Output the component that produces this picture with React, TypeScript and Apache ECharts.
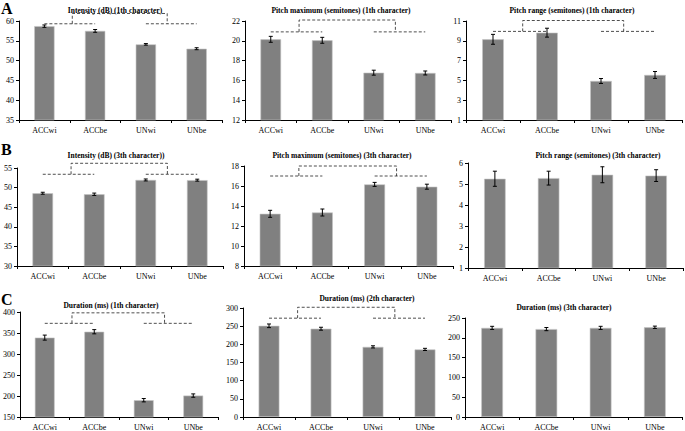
import React, { useEffect, useRef } from "react";
import * as echarts from "echarts";

const categories = ["ACCwi", "ACCbe", "UNwi", "UNbe"];

// Row A
const intensity1Means = [58.7, 57.5, 54.1, 53.0];
const intensity1Errs = [0.3, 0.35, 0.2, 0.25];
const pitchMax1Means = [20.15, 20.05, 16.78, 16.75];
const pitchMax1Errs = [0.3, 0.3, 0.25, 0.2];
const pitchRange1Means = [9.15, 9.82, 4.94, 5.55];
const pitchRange1Errs = [0.5, 0.45, 0.25, 0.35];
// Row B
const intensity3Means = [48.56, 48.3, 51.95, 51.9];
const intensity3Errs = [0.25, 0.3, 0.25, 0.25];
const pitchMax3Means = [13.22, 13.35, 16.16, 15.93];
const pitchMax3Errs = [0.35, 0.35, 0.2, 0.25];
const pitchRange3Means = [5.25, 5.28, 5.44, 5.4];
const pitchRange3Errs = [0.36, 0.33, 0.38, 0.28];
// Row C
const duration1Means = [339, 353, 190, 201];
const duration1Errs = [6, 5, 4, 4];
const duration2Means = [251, 243, 193, 186];
const duration2Errs = [5, 4, 3, 3];
const duration3Means = [225, 222, 225, 226.5];
const duration3Errs = [4, 4, 4, 3];

// significance brackets: [pair line level, connector top level]
const intensity1Bracket = [59.3, 61.9];
const pitchMax1Bracket = [20.9, 22.1];
const pitchRange1Bracket = [9.95, 11.05];
const intensity3Bracket = [53.4, 56.2];
const pitchMax3Bracket = [17.0, 18.0];
const duration1Bracket = [373, 398];
const duration2Bracket = [272, 302];

const titles = [
  "Intensity (dB) (1th character)",
  "Pitch maximum (semitones) (1th character)",
  "Pitch range (semitones) (1th character)",
  "Intensity (dB) (3th character))",
  "Pitch maximum (semitones) (3th character)",
  "Pitch range (semitones) (3th character)",
  "Duration (ms) (1th character)",
  "Duration (ms) (2th character)",
  "Duration (ms) (3th character)",
];

const FONT = "'Liberation Serif', 'Times New Roman', serif";

type Panel = {
  title: string;
  means: number[];
  errs: number[];
  yMin: number;
  yMax: number;
  yInterval: number;
  bracket?: number[];
  grid: [number, number, number, number];
  titlePos: [number, number];
};

const panels: Panel[] = [
  { title: titles[0], means: intensity1Means, errs: intensity1Errs, yMin: 35, yMax: 60, yInterval: 5, bracket: intensity1Bracket, grid: [19, 21, 203, 99], titlePos: [115, 10] },
  { title: titles[1], means: pitchMax1Means, errs: pitchMax1Errs, yMin: 12, yMax: 22, yInterval: 2, bracket: pitchMax1Bracket, grid: [245, 21, 206, 99], titlePos: [341, 10] },
  { title: titles[2], means: pitchRange1Means, errs: pitchRange1Errs, yMin: 1, yMax: 11, yInterval: 2, bracket: pitchRange1Bracket, grid: [466, 21, 216, 99], titlePos: [572, 10] },
  { title: titles[3], means: intensity3Means, errs: intensity3Errs, yMin: 30, yMax: 55, yInterval: 5, bracket: intensity3Bracket, grid: [17, 168, 206, 98], titlePos: [116, 155] },
  { title: titles[4], means: pitchMax3Means, errs: pitchMax3Errs, yMin: 8, yMax: 18, yInterval: 2, bracket: pitchMax3Bracket, grid: [244, 166, 209, 100], titlePos: [342, 155] },
  { title: titles[5], means: pitchRange3Means, errs: pitchRange3Errs, yMin: 1, yMax: 6, yInterval: 1, grid: [468, 163, 215, 105], titlePos: [598, 155] },
  { title: titles[6], means: duration1Means, errs: duration1Errs, yMin: 150, yMax: 400, yInterval: 50, bracket: duration1Bracket, grid: [14, 312, 204, 106], titlePos: [111, 305] },
  { title: titles[7], means: duration2Means, errs: duration2Errs, yMin: 0, yMax: 300, yInterval: 50, bracket: duration2Bracket, grid: [243, 308, 208, 109], titlePos: [367, 298] },
  { title: titles[8], means: duration3Means, errs: duration3Errs, yMin: 0, yMax: 250, yInterval: 50, grid: [465, 318, 217, 99], titlePos: [564, 307] },
];

const letters: [string, number, number][] = [
  ["A", 1, 8],
  ["B", 1, 149],
  ["C", 1, 299],
];

function buildOption() {
  const grid: any[] = [];
  const xAxis: any[] = [];
  const yAxis: any[] = [];
  const series: any[] = [];
  const graphic: any[] = [];

  panels.forEach((p, i) => {
    grid.push({ left: p.grid[0], top: p.grid[1], width: p.grid[2], height: p.grid[3] });
    xAxis.push({
      type: "category",
      gridIndex: i,
      data: categories,
      axisLine: { onZero: false, lineStyle: { color: "#000", width: 1 } },
      axisTick: { show: true, length: 3, lineStyle: { color: "#000" } },
      axisLabel: { fontFamily: FONT, fontSize: 8, color: "#000", margin: 6 },
    });
    xAxis.push({
      type: "value",
      gridIndex: i,
      min: -0.5,
      max: 3.5,
      show: false,
      axisLine: { show: false, onZero: false },
    });
    yAxis.push({
      type: "value",
      gridIndex: i,
      min: p.yMin,
      max: p.yMax,
      interval: p.yInterval,
      axisLine: { show: true, onZero: false, lineStyle: { color: "#000", width: 1 } },
      axisTick: { show: true, length: 3, lineStyle: { color: "#000" } },
      splitLine: { show: false },
      axisLabel: { fontFamily: FONT, fontSize: 8, color: "#000", margin: 5 },
    });
    series.push({
      type: "bar",
      xAxisIndex: 2 * i,
      yAxisIndex: i,
      data: p.means,
      barWidth: "40%",
      itemStyle: { color: "#808080", borderColor: "#c4c4c4", borderWidth: 0.6 },
      silent: true,
    });
    const means = p.means;
    const errs = p.errs;
    series.push({
      type: "custom",
      xAxisIndex: 2 * i,
      yAxisIndex: i,
      data: means.map((m, k) => [k, m]),
      clip: false,
      renderItem: (params: any, api: any) => {
        const k = params.dataIndex;
        const lo = api.coord([k, means[k] - errs[k]]);
        const hi = api.coord([k, means[k] + errs[k]]);
        const cap = 2;
        return {
          type: "group",
          children: [
            { type: "line", shape: { x1: lo[0], y1: lo[1], x2: hi[0], y2: hi[1] }, style: { stroke: "#000", lineWidth: 1 } },
            { type: "line", shape: { x1: lo[0] - cap, y1: lo[1], x2: lo[0] + cap, y2: lo[1] }, style: { stroke: "#000", lineWidth: 1 } },
            { type: "line", shape: { x1: hi[0] - cap, y1: hi[1], x2: hi[0] + cap, y2: hi[1] }, style: { stroke: "#000", lineWidth: 1 } },
          ],
        };
      },
      z: 10,
      silent: true,
    });
    if (p.bracket) {
      const [lv, top] = p.bracket;
      const lines = [
        [[0, lv], [1, lv]],
        [[2, lv], [3, lv]],
        [[0.55, lv], [0.55, top], [2.42, top], [2.42, lv]],
      ];
      lines.forEach((d) => {
        series.push({
          type: "line",
          xAxisIndex: 2 * i + 1,
          yAxisIndex: i,
          data: d,
          symbol: "none",
          showSymbol: false,
          clip: false,
          silent: true,
          lineStyle: { color: "#222", width: 0.8, type: [3, 2] },
          z: 5,
        });
      });
    }
    graphic.push({
      type: "text",
      x: p.titlePos[0],
      y: p.titlePos[1],
      style: {
        text: p.title,
        font: `bold 7.5px ${FONT}`,
        fill: "#000",
        align: "center",
        verticalAlign: "middle",
        textAlign: "center",
        textVerticalAlign: "middle",
      },
      silent: true,
    });
  });

  letters.forEach(([t, x, y]) => {
    graphic.push({
      type: "text",
      x,
      y,
      style: {
        text: t,
        font: `bold 16px ${FONT}`,
        fill: "#000",
        align: "left",
        verticalAlign: "middle",
        textAlign: "left",
        textVerticalAlign: "middle",
      },
      silent: true,
    });
  });

  return {
    animation: false,
    backgroundColor: "#fff",
    grid,
    xAxis,
    yAxis,
    series,
    graphic,
  };
}

export default function App() {
  const ref = useRef<HTMLDivElement>(null);
  useEffect(() => {
    if (!ref.current) return;
    const chart = echarts.init(ref.current, null, { renderer: "svg" });
    chart.setOption(buildOption() as any);
    return () => chart.dispose();
  }, []);
  return (
    <div
      ref={ref}
      style={{ position: "absolute", left: 0, top: 0, width: 685, height: 431, background: "#fff" }}
    />
  );
}
